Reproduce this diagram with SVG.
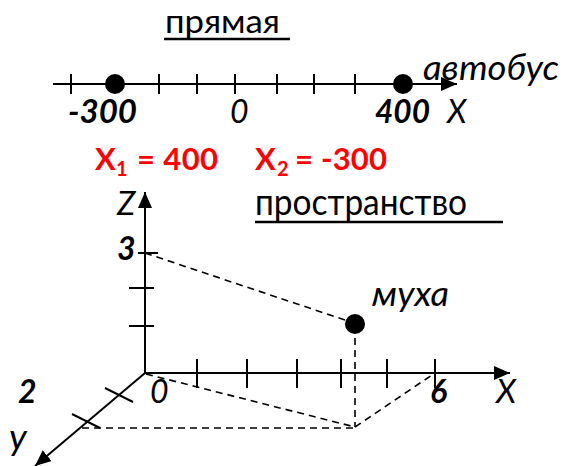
<svg xmlns="http://www.w3.org/2000/svg" width="563" height="466" viewBox="0 0 563 466">
<style>
.t{font-family:Lato,"Open Sans","Liberation Sans",sans-serif;fill:#000}
.i{font-style:italic}
.b{font-weight:bold}
.r{fill:#ff0000;font-weight:bold}
.ax{stroke:#000;stroke-width:2;fill:none}
.tk{stroke:#000;stroke-width:2}
.ds{stroke:#000;stroke-width:1.6;stroke-dasharray:7,5;fill:none}
.ul{stroke:#000;stroke-width:2.5}
</style>
<defs>
<marker id="ah" markerUnits="userSpaceOnUse" markerWidth="16" markerHeight="14" refX="16" refY="7" orient="auto">
<path d="M0,0 L16,7 L0,14 z" fill="#000"/>
</marker>
</defs>
<rect width="563" height="466" fill="#fff"/>

<g id="line-title">
<text class="t" x="165" y="33" font-size="32" textLength="115" lengthAdjust="spacingAndGlyphs">прямая</text>
<line class="ul" x1="164" y1="39" x2="290" y2="39"/>
</g>

<g id="connectors">
<line class="ax" x1="53" y1="84" x2="457" y2="84" marker-end="url(#ah)"/>
<g class="tk">
<line x1="71" y1="74" x2="71" y2="94"/>
<line x1="159" y1="74" x2="159" y2="94"/>
<line x1="197" y1="74" x2="197" y2="94"/>
<line x1="235" y1="74" x2="235" y2="94"/>
<line x1="277" y1="74" x2="277" y2="94"/>
<line x1="314" y1="74" x2="314" y2="94"/>
<line x1="355" y1="74" x2="355" y2="94"/>
</g>
<line class="ax" x1="145" y1="374" x2="145" y2="192" marker-end="url(#ah)"/>
<line class="ax" x1="144" y1="373" x2="510" y2="373" marker-end="url(#ah)"/>
<line class="ax" x1="145" y1="373" x2="35" y2="466" marker-end="url(#ah)"/>
<g class="tk">
<line x1="138" y1="253" x2="158" y2="253"/>
<line x1="129" y1="288" x2="154" y2="288"/>
<line x1="129" y1="326" x2="154" y2="326"/>
<line x1="197" y1="359" x2="197" y2="388"/>
<line x1="247" y1="359" x2="247" y2="388"/>
<line x1="297" y1="359" x2="297" y2="388"/>
<line x1="341" y1="359" x2="341" y2="388"/>
<line x1="387" y1="359" x2="387" y2="388"/>
<line x1="435" y1="359" x2="435" y2="388"/>
<line x1="105" y1="388" x2="133" y2="402"/>
<line x1="72" y1="414" x2="100" y2="428"/>
</g>
<line class="ds" x1="145" y1="253" x2="345" y2="320"/>
<line class="ds" x1="355" y1="338" x2="355" y2="427"/>
<line class="ds" x1="146" y1="374" x2="355" y2="427"/>
<line class="ds" x1="82" y1="428" x2="355" y2="428"/>
<line class="ds" x1="355" y1="427" x2="432" y2="375"/>
</g>

<g id="bus-left">
<circle cx="115" cy="84" r="10" fill="#000"/>
<text class="t i b" x="68" y="123" font-size="32" textLength="69" lengthAdjust="spacingAndGlyphs">-300</text>
</g>
<g id="zero-line">
<text class="t i" x="230" y="123" font-size="32">0</text>
</g>
<g id="bus-right">
<circle cx="403" cy="84" r="10" fill="#000"/>
<text class="t i b" x="375" y="123" font-size="32" textLength="55" lengthAdjust="spacingAndGlyphs">400</text>
</g>
<g id="bus-label">
<text class="t i" x="423" y="80" font-size="34" textLength="136" lengthAdjust="spacingAndGlyphs">автобус</text>
</g>
<g id="x-line-label">
<text class="t i" x="447" y="123" font-size="32">X</text>
</g>

<g id="red-values">
<text class="t r" x="95" y="170" font-size="31">X</text>
<text class="t r" x="116" y="176" font-size="20">1</text>
<text class="t r" x="137" y="170" font-size="31" textLength="81" lengthAdjust="spacing">= 400</text>
<text class="t r" x="255" y="170" font-size="31">X</text>
<text class="t r" x="277" y="176" font-size="20">2</text>
<text class="t r" x="295" y="170" font-size="31" textLength="92" lengthAdjust="spacing">= -300</text>
</g>

<g id="space-title">
<text class="t" x="255" y="215" font-size="36" textLength="212" lengthAdjust="spacingAndGlyphs">пространство</text>
<line class="ul" x1="255" y1="222" x2="503" y2="222"/>
</g>

<g id="axis-labels">
<text class="t i" x="117" y="215" font-size="33">Z</text>
<text class="t i b" x="117" y="260" font-size="32">3</text>
<text class="t i b" x="18" y="403" font-size="32">2</text>
<text class="t i" x="150" y="403" font-size="32">0</text>
<text class="t i b" x="430" y="403" font-size="32">6</text>
<text class="t i" x="496" y="403" font-size="33">X</text>
<text class="t i" x="9" y="450" font-size="37">y</text>
</g>

<g id="fly">
<circle cx="355" cy="324" r="10" fill="#000"/>
<text class="t i" x="372" y="306" font-size="34" textLength="77" lengthAdjust="spacingAndGlyphs">муха</text>
</g>
</svg>
